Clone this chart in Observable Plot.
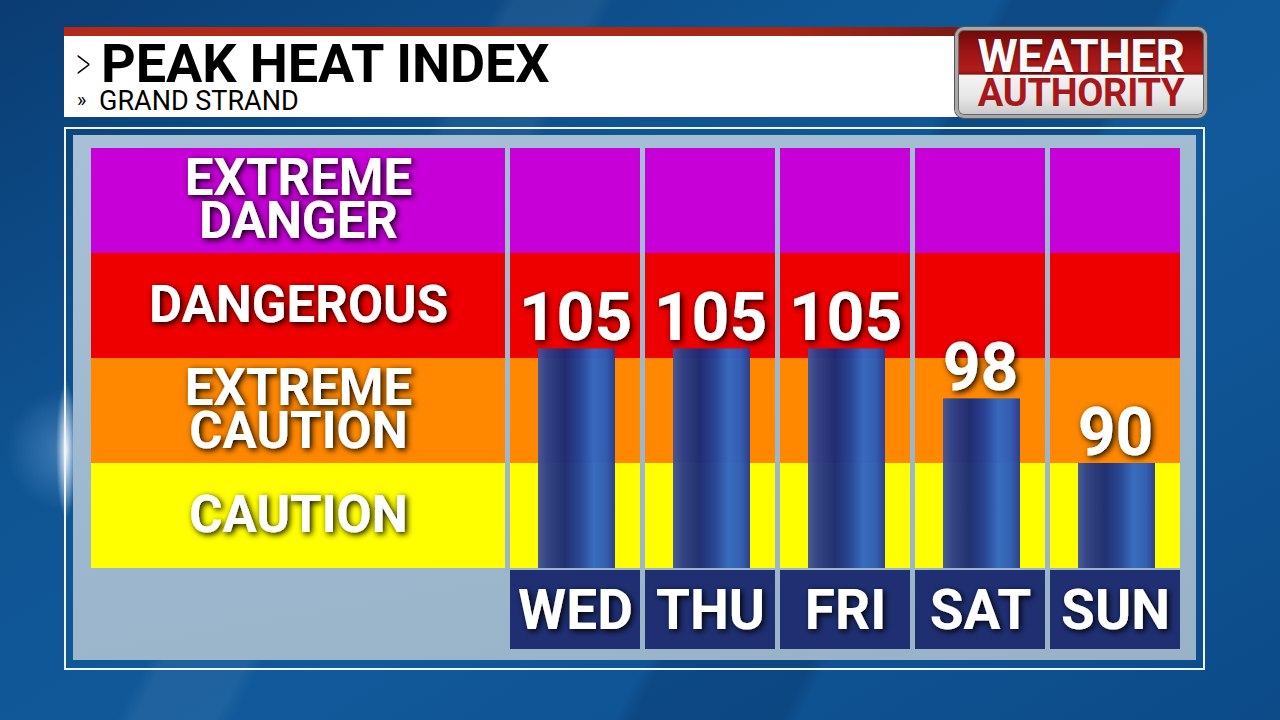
<!DOCTYPE html>
<html>
<head>
<meta charset="utf-8">
<script src="https://cdn.jsdelivr.net/npm/d3@7"></script>
<script src="https://cdn.jsdelivr.net/npm/@observablehq/plot@0.6"></script>
<style>
html,body{margin:0;padding:0;width:1280px;height:720px;overflow:hidden}
body{position:relative;font-family:Roboto,"DejaVu Sans",sans-serif;
  background:
    radial-gradient(ellipse 10px 70px at 66px 450px, rgba(255,255,255,0.9), rgba(255,255,255,0) 100%),
    radial-gradient(circle at 66px 450px, rgba(160,200,255,0.35), rgba(160,200,255,0) 60px),
    linear-gradient(118deg, rgba(0,0,0,0) 0%, rgba(0,0,0,0) 30%, rgba(255,255,255,0.06) 31%, rgba(255,255,255,0.06) 36%, rgba(0,0,0,0) 37%, rgba(0,0,0,0) 60%, rgba(0,20,60,0.18) 61%, rgba(0,20,60,0.18) 70%, rgba(0,0,0,0) 71%),
    linear-gradient(150deg, #0a3c72 0%, #0f5594 35%, #11599a 60%, #0c4a88 100%);
}
.abs{position:absolute}
#redstrip{left:64px;top:27px;width:900px;height:9px;background:linear-gradient(90deg,#b32a18,#a82616 80%,#7a1c14)}
#whitebox{left:64px;top:36px;width:896px;height:81px;background:#fff}
#chev{left:76px;top:45px;font-size:48px;font-weight:200;color:#000;line-height:0.8;transform:scaleX(0.6);transform-origin:left}
#title{left:101px;top:42px;font-size:54px;font-weight:700;color:#000;line-height:0.8;letter-spacing:-0.1px}
#chev2{left:77px;top:90px;font-size:20px;color:#000;line-height:1}
#subtitle{left:99px;top:88px;font-size:27px;font-weight:400;color:#000;line-height:1}
#logo{left:955px;top:27px;width:246px;height:85px;border-radius:9px;border:3px solid #a8a8a8;
  box-shadow:0 0 0 1px #555, inset 0 0 0 1px #666;
  background:linear-gradient(to bottom,#6e0a0a 0%,#9c1414 25%,#b01c1c 47%,#8e1212 52%,#f4f4f4 53%,#e6e6e6 80%,#c8c8c8 100%);overflow:hidden}
#logo1{left:0;width:246px;top:8px;text-align:center;font-size:46px;font-weight:700;color:#fafafa;line-height:0.8;letter-spacing:-0.5px;text-shadow:0 2px 2px rgba(0,0,0,0.5)}
#logo2{left:0;width:246px;top:48px;text-align:center;font-size:38px;font-weight:700;color:#a8171b;line-height:0.8;letter-spacing:-0.3px}
#frame{left:64px;top:127px;width:1137px;height:539px;border:2px solid #eef4fa}
#panel{left:73px;top:135px;width:1123px;height:525px;background:linear-gradient(170deg,#a7c0d5 0%,#9db8cf 50%,#99b2c7 100%)}
#left{left:91px;top:148px}
#right{left:510px;top:148px}
#days{left:510px;top:570px}
svg text{font-family:Roboto,"DejaVu Sans",sans-serif}
</style>
</head>
<body>
<svg width="0" height="0" style="position:absolute">
  <defs>
    <linearGradient id="barGrad" x1="0" x2="1" y1="0" y2="0">
      <stop offset="0%" stop-color="#44559a"/>
      <stop offset="12%" stop-color="#2e3f88"/>
      <stop offset="35%" stop-color="#1b2a74"/>
      <stop offset="55%" stop-color="#23429a"/>
      <stop offset="72%" stop-color="#3268c4"/>
      <stop offset="88%" stop-color="#2d5cb6"/>
      <stop offset="100%" stop-color="#283a90"/>
    </linearGradient>
    <filter id="shadow" x="-20%" y="-30%" width="140%" height="160%">
      <feDropShadow dx="2" dy="2" stdDeviation="3" flood-color="#000" flood-opacity="1"/>
    </filter>
  </defs>
</svg>
<div class="abs" id="redstrip"></div>
<div class="abs" id="whitebox"></div>
<div class="abs" id="chev">&gt;</div>
<div class="abs" id="title">PEAK HEAT INDEX</div>
<div class="abs" id="chev2">»</div>
<div class="abs" id="subtitle">GRAND STRAND</div>
<div class="abs" id="logo"><div class="abs" id="logo1">WEATHER</div><div class="abs" id="logo2">AUTHORITY</div></div>
<div class="abs" id="frame"></div>
<div class="abs" id="panel"></div>
<div class="abs" id="left"></div>
<div class="abs" id="right"></div>
<div class="abs" id="days"></div>
<script>
// ---- data ----
const days = ["WED", "THU", "FRI", "SAT", "SUN"];
const heatIndex = [105, 105, 105, 98, 90];
const bandLabels = ["CAUTION", "EXTREME\nCAUTION", "DANGEROUS", "EXTREME\nDANGER"];
const bandLow = [80, 90, 103, 125];
const bandHigh = [90, 103, 125, 140];
const bandColors = ["#ffff00", "#ff8800", "#ee0000", "#c800d8"];

const bands = bandLabels.map((label, i) => ({label, low: bandLow[i], high: bandHigh[i], color: bandColors[i]}));
const forecast = days.map((day, i) => ({day, value: heatIndex[i]}));
const cells = days.flatMap(day => bands.map(b => ({day, ...b})));

// piecewise y scale: each category band gets an equal share of the height
const plotH = 420;
const yDomain = [bandLow[0], ...bandHigh];
const yScale = {type: "linear", domain: yDomain,
  range: yDomain.map((_, i, a) => plotH * (1 - i / (a.length - 1))), axis: null};
const xScale = {type: "band", domain: days, paddingInner: 5 / 135, paddingOuter: 0, axis: null};

function shadowText(svg) {
  svg.querySelectorAll('g[aria-label="text"]').forEach(g => g.setAttribute("filter", "url(#shadow)"));
  return svg;
}

// left: category labels
const left = Plot.plot({
  width: 414, height: plotH, margin: 0,
  y: yScale,
  style: {background: "transparent", overflow: "visible"},
  marks: [
    Plot.rect(bands, {y1: "low", y2: "high", fill: "color"}),
    Plot.text(bands, {y: d => (d.low + d.high) / 2, text: "label", frameAnchor: "middle",
      fill: "white", fontSize: 51, fontWeight: 700, lineHeight: 0.84, dy: 2})
  ]
});
document.getElementById("left").appendChild(shadowText(left));

// right: day columns with bars
const right = Plot.plot({
  width: 670, height: plotH, margin: 0,
  x: xScale, y: yScale,
  style: {background: "transparent", overflow: "visible"},
  marks: [
    Plot.barY(cells, {x: "day", y1: "low", y2: "high", fill: "color"}),
    Plot.barY(forecast, {x: "day", y1: bandLow[0], y2: "value", fill: "url(#barGrad)", fillOpacity: 0.97,
      insetLeft: 28, insetRight: 25}),
    Plot.text(forecast, {x: "day", y: "value", text: d => String(d.value), lineAnchor: "bottom", dy: -9,
      fill: "white", fontSize: 66, fontWeight: 700})
  ]
});
document.getElementById("right").appendChild(shadowText(right));

// bottom: day labels
const dayRow = Plot.plot({
  width: 670, height: 79, margin: 0,
  x: xScale,
  style: {background: "transparent", overflow: "visible"},
  marks: [
    Plot.cell(forecast, {x: "day", fill: "#1f2f72"}),
    Plot.text(forecast, {x: "day", text: "day", fill: "white", fontSize: 55, fontWeight: 700, dy: 1})
  ]
});
document.getElementById("days").appendChild(shadowText(dayRow));
</script>
</body>
</html>
